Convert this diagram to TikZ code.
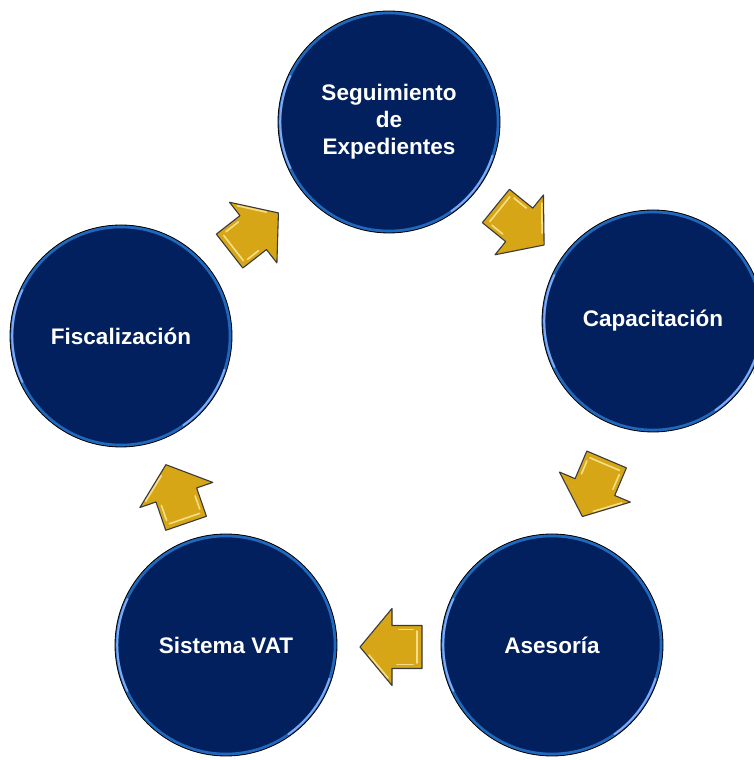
\documentclass[tikz,border=0pt]{standalone}
\usepackage{fontspec}
\setmainfont{Liberation Sans}
\usetikzlibrary{calc,backgrounds}
\definecolor{navy}{HTML}{02205E}
\definecolor{ringblue}{HTML}{1F68BC}
\definecolor{hlblue}{HTML}{7FA9F4}
\definecolor{gold}{HTML}{D6A616}
\definecolor{goldlight}{HTML}{FAE596}
\definecolor{goldedge}{HTML}{3A3A3A}
\tikzset{
 circ/.style={circle, minimum size=222pt, inner sep=0pt, fill=navy, draw=black, line width=0.8pt,
   text=white, font=\bfseries\fontsize{22.5}{27}\selectfont, align=center,
   path picture={
     \draw[ringblue, line width=3pt] (path picture bounding box.center) circle[radius=109.2pt];
     \draw[hlblue, line width=2pt, line cap=round] ([shift={(155:108.8pt)}]path picture bounding box.center) arc[start angle=155, end angle=205, radius=108.8pt];
     \draw[hlblue, line width=2pt, line cap=round] ([shift={(-18:108.8pt)}]path picture bounding box.center) arc[start angle=-18, end angle=-55, radius=108.8pt];
   }},
 shadowc/.style={fill=black, opacity=0.16},
 garrow/.style={fill=gold, draw=goldedge, line width=1.1pt, line join=round},
 gshine/.style={draw=goldlight, line width=1.6pt, line cap=round, opacity=0.9},
}
\newcommand{\blockarrow}{%
  \draw[garrow] (-31,-21.5) -- (-1,-21.5) -- (-1,-38.5) -- (31,0) -- (-1,38.5) -- (-1,21.5) -- (-31,21.5) -- cycle;
  \draw[gshine] (-26,16) -- (-26,-16);
  \draw[gshine] (-22,17.5) -- (-6,17.5);
  \draw[gshine] (3,31) -- (22,8);
  \draw[gshine] (-22,-17.5) -- (-8,-17.5);
}
\begin{document}
\begin{tikzpicture}[x=1pt,y=1pt]
\useasboundingbox (0,0) rectangle (753,760);
\fill[white] (0,0) rectangle (753,760);
\node[circ] (seg) at (389,638) {Seguimiento\\de\\Expedientes};
\node[circ] (cap) at (653,439) {Capacitación};
\node[circ] (ase) at (552,115) {Asesoría};
\node[circ] (vat) at (226,115) {Sistema VAT};
\node[circ] (fis) at (121,424) {Fiscalización};
\begin{scope}[on background layer]
  \foreach \c in {seg,cap,ase,vat,fis}{\fill[shadowc] ($(\c)+(1.5,-3)$) circle[radius=111];}
\end{scope}
\begin{scope}[shift={($(seg)!0.5!(cap)+(-1,-4)$)}, rotate=-39] \blockarrow \end{scope}
\begin{scope}[shift={($(cap)!0.5!(ase)+(-8,-5)$)}, rotate=-113] \blockarrow \end{scope}
\begin{scope}[shift={($(ase)!0.5!(vat)+(2,-2)$)}, rotate=180] \blockarrow \end{scope}
\begin{scope}[shift={($(vat)!0.5!(fis)+(2.5,-3.5)$)}, rotate=109] \blockarrow \end{scope}
\begin{scope}[shift={($(fis)!0.5!(seg)+(-1,-3)$)}, rotate=38] \blockarrow \end{scope}
\end{tikzpicture}
\end{document}
